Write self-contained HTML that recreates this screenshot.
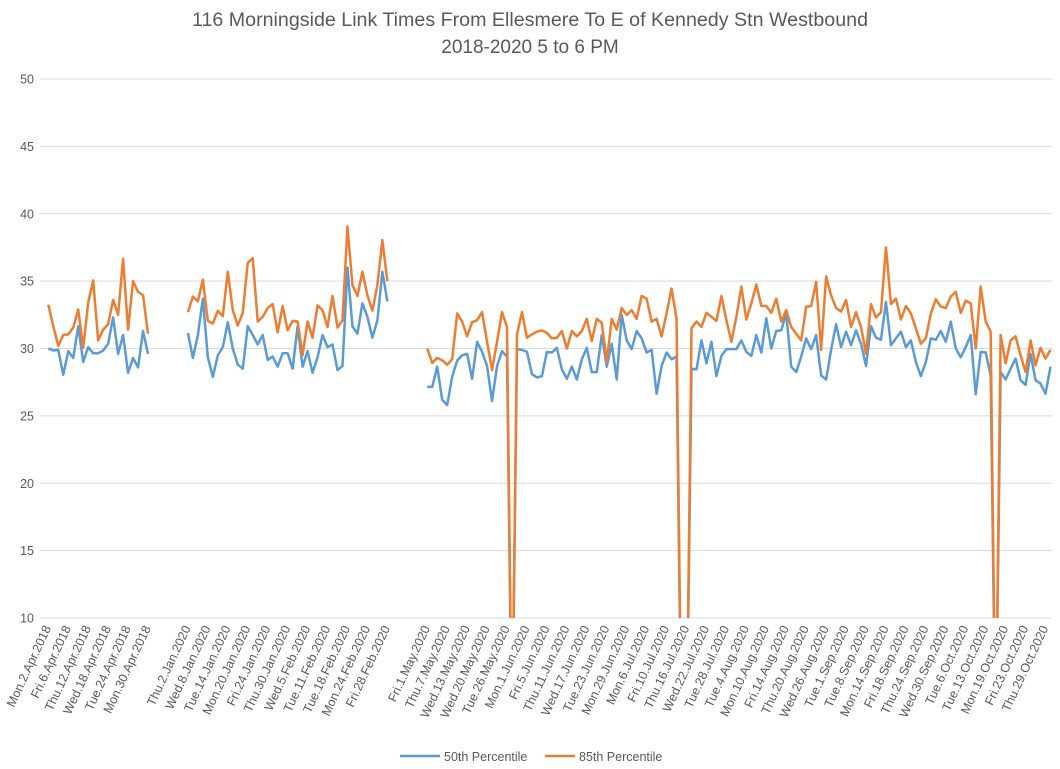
<!DOCTYPE html>
<html><head><meta charset="utf-8"><style>
html,body{margin:0;padding:0;background:#fff;}
svg{display:block;font-family:"Liberation Sans",sans-serif;}
</style></head><body>
<svg id="chart" width="1060" height="769" viewBox="0 0 1060 769" xmlns="http://www.w3.org/2000/svg">
<rect width="1060" height="769" fill="#fff"/>
<text x="530" y="26" text-anchor="middle" font-size="19" fill="#595959" textLength="676" lengthAdjust="spacingAndGlyphs">116 Morningside Link Times From Ellesmere To E of Kennedy Stn Westbound</text>
<text x="530" y="53" text-anchor="middle" font-size="19" fill="#595959">2018-2020 5 to 6 PM</text>
<g id="grid"></g><g id="yticks"></g><g id="xticks"></g><g id="series"></g>
<g>
<g>
<line x1="400" y1="756" x2="440" y2="756" stroke="#5b9bd5" stroke-width="2.5"/>
<text x="444" y="761" font-size="12.5" fill="#595959">50th Percentile</text></g>
<g>
<line x1="545" y1="756" x2="575" y2="756" stroke="#ed7d31" stroke-width="2.5"/>
<text x="579" y="761" font-size="12.5" fill="#595959">85th Percentile</text></g>
</g>
</svg>
<script>
const yTicks = [10,15,20,25,30,35,40,45,50];
const tickLabels = ["Mon.2.Apr.2018","Fri.6.Apr.2018","Thu.12.Apr.2018","Wed.18.Apr.2018","Tue.24.Apr.2018","Mon.30.Apr.2018","",
"Thu.2.Jan.2020","Wed.8.Jan.2020","Tue.14.Jan.2020","Mon.20.Jan.2020","Fri.24.Jan.2020","Thu.30.Jan.2020","Wed.5.Feb.2020","Tue.11.Feb.2020","Tue.18.Feb.2020","Mon.24.Feb.2020","Fri.28.Feb.2020","",
"Fri.1.May.2020","Thu.7.May.2020","Wed.13.May.2020","Wed.20.May.2020","Tue.26.May.2020","Mon.1.Jun.2020","Fri.5.Jun.2020","Thu.11.Jun.2020","Wed.17.Jun.2020","Tue.23.Jun.2020","Mon.29.Jun.2020","Mon.6.Jul.2020","Fri.10.Jul.2020","Thu.16.Jul.2020","Wed.22.Jul.2020","Tue.28.Jul.2020","Tue.4.Aug.2020","Mon.10.Aug.2020","Fri.14.Aug.2020","Thu.20.Aug.2020","Wed.26.Aug.2020","Tue.1.Sep.2020","Tue.8.Sep.2020","Mon.14.Sep.2020","Fri.18.Sep.2020","Thu.24.Sep.2020","Wed.30.Sep.2020","Tue.6.Oct.2020","Tue.13.Oct.2020","Mon.19.Oct.2020","Fri.23.Oct.2020","Thu.29.Oct.2020"];
const gapBlank = [null,null,null,null,null,null,null];
const p50Apr2018 = [30.0,29.85,29.9,28.05,29.8,29.3,31.65,29.0,30.1,29.65,29.65,29.85,30.35,32.3,29.6,31.0,28.2,29.3,28.6,31.3,29.6];
const p85Apr2018 = [33.25,31.65,30.2,31.0,31.05,31.55,32.9,30.05,33.4,35.05,30.6,31.4,31.8,33.6,32.5,36.65,31.4,35.0,34.2,33.95,31.1];
const p50JanFeb2020 = [31.15,29.3,31.0,33.7,29.35,27.9,29.5,30.1,31.95,30.0,28.8,28.5,31.65,31.0,30.3,31.0,29.15,29.4,28.65,29.65,29.65,28.5,31.65,28.65,29.8,28.2,29.35,31.0,30.1,30.3,28.4,28.7,36.0,31.65,31.1,33.35,32.35,30.8,32.1,35.7,33.5];
const p85JanFeb2020 = [32.7,33.85,33.5,35.1,32.05,31.85,32.8,32.4,35.7,32.85,31.7,32.65,36.35,36.7,32.0,32.35,33.0,33.3,31.2,33.15,31.35,32.05,32.0,29.5,32.0,30.8,33.2,32.85,31.6,33.9,31.55,32.1,39.05,34.7,33.9,35.7,33.95,32.8,34.7,38.05,35.0];
const p50MayOct2020 = [27.15,27.15,28.65,26.2,25.8,27.9,29.1,29.5,29.6,27.75,30.5,29.75,28.7,26.1,28.7,29.8,29.4,0,29.95,29.9,29.75,28.1,27.85,27.95,29.75,29.7,30.05,28.45,27.75,28.65,27.7,29.2,30.05,28.25,28.25,31.0,28.65,30.35,27.7,32.5,30.6,29.95,31.3,
30.75,29.7,29.9,26.65,28.7,29.7,29.2,29.4,0,0,28.5,28.45,30.6,28.9,30.5,27.95,29.45,29.95,29.95,29.95,30.6,29.75,29.45,31.0,29.7,32.25,30.0,31.3,31.35,32.6,28.65,28.25,29.4,30.75,29.95,31.0,28.0,27.7,29.9,31.8,30.1,
31.25,30.25,31.35,30.35,28.7,31.65,30.8,30.65,33.45,30.25,30.75,31.25,30.1,30.6,29.0,27.95,29.0,30.75,30.65,31.3,30.5,32.0,30.0,29.35,30.1,31.0,26.6,29.75,29.7,28.0,0,28.25,27.7,28.5,29.25,27.65,27.3,29.6,27.65,27.4,26.65,28.65];
const p85MayOct2020 = [30.0,28.93,29.3,29.13,28.8,29.2,32.6,32.0,30.9,31.95,32.1,32.7,30.5,28.4,30.5,32.7,31.6,0,31.05,32.7,30.8,31.05,31.25,31.35,31.15,30.75,30.8,31.3,30.0,31.3,30.9,31.3,32.2,30.55,32.2,31.9,29.0,32.2,31.4,33.0,32.5,32.85,32.2,
33.9,33.7,32.0,32.2,30.9,32.6,34.45,32.2,0,0,31.5,32.0,31.6,32.65,32.35,32.05,33.9,32.1,30.5,32.35,34.6,32.15,33.35,34.75,33.15,33.15,32.65,33.7,32.0,32.85,31.6,31.1,30.6,33.1,33.15,34.95,29.9,35.35,33.95,33.0,32.75,
33.6,31.6,32.7,31.6,29.6,33.3,32.3,32.7,37.5,33.3,33.7,32.15,33.15,32.6,31.5,30.35,30.75,32.6,33.65,33.1,33.0,33.85,34.2,32.65,33.55,33.35,30.0,34.6,32.0,31.25,0,31.0,28.9,30.6,30.9,29.5,28.25,30.6,28.75,30.05,29.25,29.9];

const p50 = [].concat(p50Apr2018, gapBlank, p50JanFeb2020, gapBlank, p50MayOct2020);
const p85 = [].concat(p85Apr2018, gapBlank, p85JanFeb2020, gapBlank, p85MayOct2020);

const NS = "http://www.w3.org/2000/svg";
const plotL = 40, plotR = 1052, plotT = 79, plotB = 618;
const nCat = p50.length;
const step = (1050.5 - 48.3) / (nCat - 1);
function xPos(i){ return 48.3 + i * step; }
function yPos(v){ return plotB - (v - 10) * (plotB - plotT) / 40; }
function mk(tag, attrs, parent){ const e = document.createElementNS(NS, tag); for (const k in attrs) e.setAttribute(k, attrs[k]); parent.appendChild(e); return e; }

const grid = document.getElementById('grid'), yt = document.getElementById('yticks');
yTicks.forEach(v => {
  const l = mk('line', {x1: plotL, x2: plotR, y1: yPos(v), y2: yPos(v), stroke: '#d9d9d9', 'stroke-width': 1}, grid);
  
  
  const t = mk('text', {x: 34, y: yPos(v) + 4.5, 'text-anchor': 'end', 'font-size': 12.5, fill: '#595959'}, yt);
  t.textContent = v;
  
  
});

const xt = document.getElementById('xticks');
tickLabels.forEach((lab, j) => {
  if (!lab) return;
  const x = xPos(j * 4) + 3, y = 628;
  const t = mk('text', {x: x, y: y, 'text-anchor': 'end', 'font-size': 12.5, fill: '#595959', transform: 'rotate(-65 ' + x + ' ' + y + ')'}, xt);
  t.textContent = lab;
  
  
});

const ser = document.getElementById('series');
const defs = mk('defs', {}, ser);
const cp = mk('clipPath', {id: 'plotclip'}, defs);
mk('rect', {x: plotL, y: plotT - 5, width: plotR - plotL + 5, height: plotB - plotT + 5}, cp);
function drawSeries(vals, color, name){
  let d = '', pen = false;
  vals.forEach((v, i) => {
    if (v === null) { pen = false; return; }
    d += (pen ? 'L' : 'M') + xPos(i).toFixed(2) + ' ' + yPos(v).toFixed(2);
    pen = true;
  });
  const p = mk('path', {d: d, fill: 'none', stroke: color, 'stroke-width': 2.5, 'stroke-linejoin': 'round', 'clip-path': 'url(#plotclip)'}, ser);
  
  
}
drawSeries(p50, '#5b9bd5', 'series-50th-percentile');
drawSeries(p85, '#ed7d31', 'series-85th-percentile');
</script>
</body></html>
